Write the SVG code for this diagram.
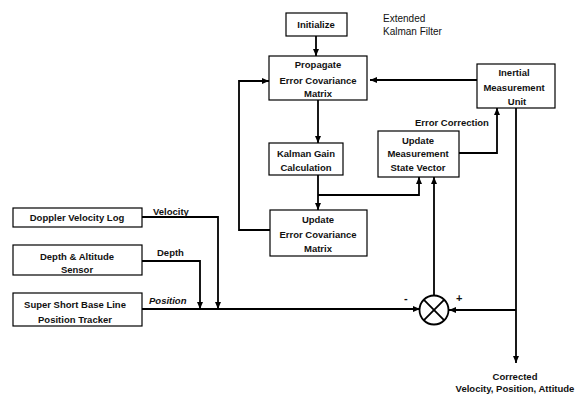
<svg xmlns="http://www.w3.org/2000/svg" width="587" height="397" viewBox="0 0 587 397">
<defs>
<marker id="ah" markerWidth="8" markerHeight="8" refX="7" refY="4" orient="auto" markerUnits="userSpaceOnUse">
<path d="M0,1 L7,4 L0,7 Z" fill="#000"/>
</marker>
<style>
.box{fill:#fff;stroke:#000;stroke-width:1.2}
.t{font-family:"Liberation Sans",Arial,sans-serif;font-size:9.5px;font-weight:bold;fill:#111;text-anchor:middle}
.l{font-family:"Liberation Sans",Arial,sans-serif;font-size:9.5px;font-weight:bold;fill:#111}
.c{fill:none;stroke:#000;stroke-width:1.8}
</style>
</defs>
<rect width="587" height="397" fill="#fff"/>
<g id="connectors">
<path class="c" d="M316,36 V56" marker-end="url(#ah)"/>
<path class="c" d="M477,80 H370" marker-end="url(#ah)"/>
<path class="c" d="M318,100 V143" marker-end="url(#ah)"/>
<path class="c" d="M318,175 V210" marker-end="url(#ah)"/>
<path class="c" d="M318,195 H419 V177" marker-end="url(#ah)"/>
<path class="c" d="M270,230 H239 V81 H269" marker-end="url(#ah)"/>
<path class="c" d="M459,153 H497 V108" marker-end="url(#ah)"/>
<path class="c" d="M434,296 V177" marker-end="url(#ah)"/>
<path class="c" d="M516,108 V363" marker-end="url(#ah)"/>
<path class="c" d="M516,310 H449" marker-end="url(#ah)"/>
<path class="c" d="M142,309 H420" marker-end="url(#ah)"/>
<path class="c" d="M142,217 H218 V309" marker-end="url(#ah)"/>
<path class="c" d="M142,261 H200 V309" marker-end="url(#ah)"/>
</g>
<g id="initialize"><rect class="box" x="286" y="13" width="61" height="23"/><text class="t" x="316" y="28">Initialize</text></g>
<g id="ekf-label"><text class="l" x="383" y="22" style="font-weight:normal;font-size:10px">Extended</text><text class="l" x="383" y="35" style="font-weight:normal;font-size:10px">Kalman Filter</text></g>
<g id="propagate"><rect class="box" x="269" y="56" width="98" height="44"/><text class="t" x="318" y="68">Propagate</text><text class="t" x="318" y="84">Error Covariance</text><text class="t" x="318" y="97">Matrix</text></g>
<g id="kalman-gain"><rect class="box" x="269" y="143" width="74" height="32"/><text class="t" x="306" y="157">Kalman Gain</text><text class="t" x="306" y="171">Calculation</text></g>
<g id="update-measurement"><rect class="box" x="378" y="131" width="81" height="46"/><text class="t" x="418" y="144">Update</text><text class="t" x="418" y="157">Measurement</text><text class="t" x="418" y="171">State Vector</text></g>
<g id="update-error-cov"><rect class="box" x="270" y="210" width="97" height="46"/><text class="t" x="318" y="223">Update</text><text class="t" x="318" y="238">Error Covariance</text><text class="t" x="318" y="252">Matrix</text></g>
<g id="imu"><rect class="box" x="477" y="64" width="78" height="44"/><text class="t" x="514" y="76">Inertial</text><text class="t" x="514" y="91">Measurement</text><text class="t" x="517" y="105">Unit</text></g>
<g id="dvl"><rect class="box" x="13" y="208" width="129" height="19"/><text class="t" x="77" y="221">Doppler Velocity Log</text></g>
<g id="depth-sensor"><rect class="box" x="13" y="245" width="129" height="30"/><text class="t" x="77" y="260">Depth &amp; Altitude</text><text class="t" x="77" y="273">Sensor</text></g>
<g id="ssbl"><rect class="box" x="13" y="293" width="129" height="33"/><text class="t" x="75" y="308">Super Short Base Line</text><text class="t" x="75" y="323">Position Tracker</text></g>
<g id="sum-junction"><circle cx="434" cy="310" r="14.5" fill="#fff" stroke="#000" stroke-width="1.8"/><path d="M423.7,299.7 L444.3,320.3 M444.3,299.7 L423.7,320.3" stroke="#000" stroke-width="1.8"/></g>
<g id="labels">
<text class="l" x="153" y="215">Velocity</text>
<text class="l" x="157" y="256">Depth</text>
<text class="l" x="149" y="304" font-style="italic">Position</text>
<text class="l" x="415" y="126">Error Correction</text>
<text class="l" x="404" y="302" style="font-size:11px">-</text>
<text class="l" x="456" y="302" style="font-size:11px">+</text>
<text class="t" x="515" y="380">Corrected</text>
<text class="t" x="515" y="392">Velocity, Position, Attitude</text>
</g>
</svg>
